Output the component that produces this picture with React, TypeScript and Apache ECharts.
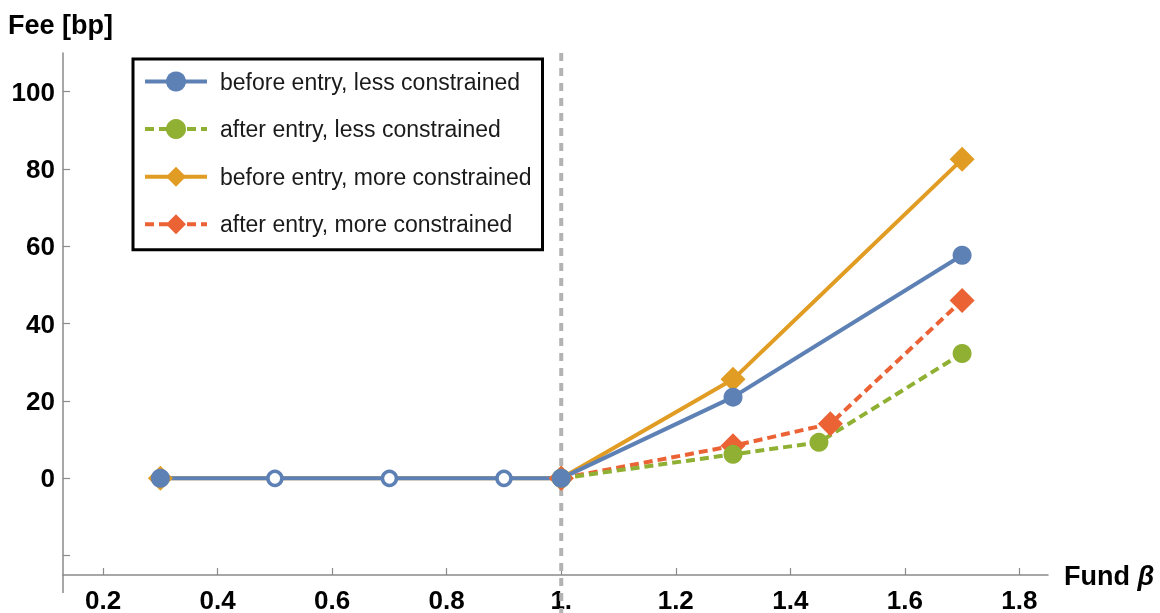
import React, { useEffect, useRef } from "react";
import * as echarts from "echarts";

const FONT = "'Liberation Sans', Arial, Helvetica, sans-serif";

const seriesNames = [
  "before entry, less constrained",
  "after entry, less constrained",
  "before entry, more constrained",
  "after entry, more constrained",
];
const colors = ["#5E81B5", "#8FB032", "#E19C24", "#EB6235"];

// before entry, less constrained (blue)
const blueX = [0.3, 0.5, 0.7, 0.9, 1.0, 1.3, 1.7];
const blueY = [0, 0, 0, 0, 0, 21.0, 57.7];
const blueHollow = [false, true, true, true, false, false, false];
// after entry, less constrained (green)
const greenX = [1.0, 1.3, 1.45, 1.7];
const greenY = [0, 6.2, 9.3, 32.3];
// before entry, more constrained (orange)
const orangeX = [0.3, 1.0, 1.3, 1.7];
const orangeY = [0, 0, 25.6, 82.5];
// after entry, more constrained (red)
const redX = [1.0, 1.3, 1.47, 1.7];
const redY = [0, 8.4, 14.1, 46.0];

const xTicks = [0.2, 0.4, 0.6, 0.8, 1.0, 1.2, 1.4, 1.6, 1.8];
const yTicks = [-20, 0, 20, 40, 60, 80, 100];
const yLabels = [0, 20, 40, 60, 80, 100];
const refX = 1.0;

const AXIS_COLOR = "#8a8a8a";

export default function App() {
  const ref = useRef<HTMLDivElement>(null);
  useEffect(() => {
    if (!ref.current) return;
    const chart = echarts.init(ref.current, undefined, { renderer: "svg" });
    const pair = (xs: number[], ys: number[]) => xs.map((x, i) => [x, ys[i]]);

    const baseLine = (idx: number, dashed: boolean, symbol: string, size: number) => ({
      name: seriesNames[idx],
      type: "line",
      symbol,
      symbolSize: size,
      color: colors[idx],
      itemStyle: { color: colors[idx] },
      lineStyle: { color: colors[idx], width: 4, type: dashed ? [9, 5] : "solid" },
      emphasis: { disabled: true },
      clip: false,
    });

    chart.setOption({
      animation: false,
      grid: { left: 63, top: 53, right: 112, bottom: 34 },
      xAxis: {
        type: "value",
        min: 0.13,
        max: 1.85,
        axisLine: { show: true, onZero: false, lineStyle: { color: AXIS_COLOR, width: 1.5 } },
        axisTick: { show: true, inside: true, length: 7, customValues: xTicks, lineStyle: { color: AXIS_COLOR, width: 1.2 } },
        axisLabel: {
          customValues: xTicks,
          margin: 12,
          color: "#000",
          fontFamily: FONT,
          fontWeight: "bold",
          fontSize: 26,
          formatter: (v: number) => (Math.abs(v - 1) < 1e-9 ? "1." : v.toFixed(1)),
        },
        splitLine: { show: false },
      },
      yAxis: {
        type: "value",
        min: -25,
        max: 110,
        axisLine: { show: true, onZero: false, lineStyle: { color: AXIS_COLOR, width: 1.5 } },
        axisTick: { show: true, inside: true, length: 7, customValues: yTicks, lineStyle: { color: AXIS_COLOR, width: 1.2 } },
        axisLabel: {
          customValues: yLabels,
          margin: 8,
          color: "#000",
          fontFamily: FONT,
          fontWeight: "bold",
          fontSize: 26,
        },
        splitLine: { show: false },
      },
      legend: {
        data: seriesNames,
        orient: "vertical",
        left: 133,
        top: 59,
        padding: [11, 11, 14, 10],
        itemWidth: 62,
        itemHeight: 25,
        itemGap: 24.6,
        borderColor: "#000",
        borderWidth: 3,
        backgroundColor: "#fff",
        selectedMode: false,
        lineStyle: { width: 4 },
        textStyle: { fontFamily: FONT, fontSize: 23, color: "#1a1a1a", lineHeight: 22, padding: [0, 0, 0, 8] },
      },
      series: [
        { ...baseLine(2, false, "diamond", 25), data: pair(orangeX, orangeY) },
        { ...baseLine(3, true, "diamond", 25), data: pair(redX, redY) },
        { ...baseLine(1, true, "circle", 19), data: pair(greenX, greenY) },
        {
          ...baseLine(0, false, "circle", 19),
          data: blueX.map((x, i) =>
            blueHollow[i]
              ? { value: [x, blueY[i]], symbolSize: 14, itemStyle: { color: "#fff", borderColor: colors[0], borderWidth: 3.5 } }
              : { value: [x, blueY[i]] }
          ),
        },
      ],
    });

    const px = chart.convertToPixel({ xAxisIndex: 0 }, refX) as number;
    const yTop = chart.convertToPixel({ yAxisIndex: 0 }, 110) as number;
    const yBot = chart.convertToPixel({ yAxisIndex: 0 }, -25) as number;
    const xLeft = chart.convertToPixel({ xAxisIndex: 0 }, 0.13) as number;

    chart.setOption({
      graphic: [
        {
          type: "line",
          z: 1,
          shape: { x1: px, y1: yTop, x2: px, y2: 613 },
          style: { stroke: "#b3b3b3", lineWidth: 4, lineDash: [8, 7] },
          silent: true,
        },
        {
          type: "line",
          z: 1,
          shape: { x1: xLeft, y1: yBot, x2: xLeft, y2: yBot + 18 },
          style: { stroke: AXIS_COLOR, lineWidth: 1.5 },
          silent: true,
        },
        {
          type: "text",
          x: 8,
          y: 25,
          style: { text: "Fee [bp]", font: `bold 27px ${FONT}`, fill: "#000", verticalAlign: "middle" },
        },
        {
          type: "text",
          x: 1064,
          y: 576,
          style: {
            text: "{a|Fund }{b|β}",
            verticalAlign: "middle",
            rich: {
              a: { fontFamily: FONT, fontWeight: "bold", fontSize: 27, fill: "#000" },
              b: { fontFamily: FONT, fontWeight: "bold", fontStyle: "italic", fontSize: 27, fill: "#000" },
            },
          },
        },
      ],
    });

    return () => chart.dispose();
  }, []);

  return <div ref={ref} style={{ position: "fixed", left: 0, top: 0, width: 1160, height: 613 }} />;
}
